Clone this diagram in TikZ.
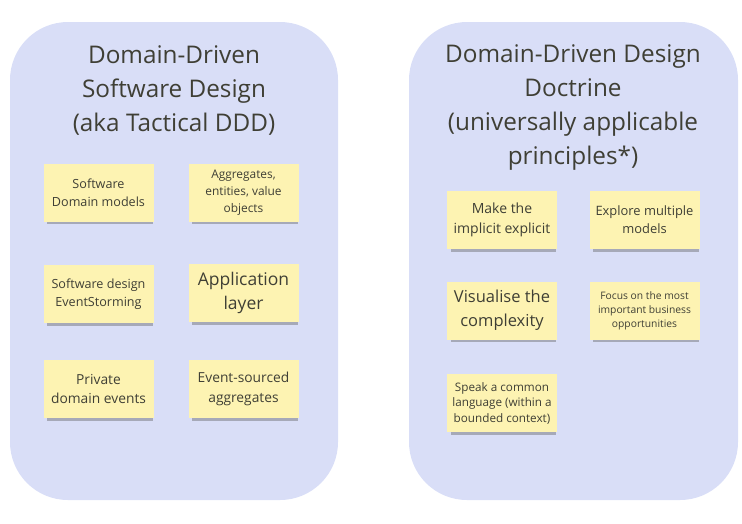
\documentclass[tikz,border=0pt]{standalone}
\usepackage{fontspec}
\setmainfont{Open Sans}
\usetikzlibrary{shadows}
\definecolor{panelfill}{HTML}{D9DEF7}
\definecolor{notefill}{HTML}{FDF3B2}
\definecolor{inkdark}{HTML}{3F3F35}
\definecolor{shadowgray}{HTML}{9EA0AE}
\tikzset{
  panel/.style={fill=panelfill, draw=none, rounded corners=58pt},
  paneltitle/.style={text=inkdark, align=center,
    font=\fontsize{24.3}{34}\selectfont},
  note/.style={fill=notefill, draw=none, minimum width=110pt, minimum height=58pt,
    text=inkdark, align=center, inner sep=2pt,
    general shadow={fill=shadowgray, opacity=0.85, shadow xshift=1.5pt,
      shadow yshift=-4pt, shadow scale=0.96}},
  fs/.style 2 args={font=\fontsize{#1}{#2}\selectfont}
}
\begin{document}
\begin{tikzpicture}[x=1pt,y=-1pt]
  \useasboundingbox (0,0) rectangle (742,523);
  % the two panels
  \fill[panel] (10,22) rectangle (338,500);
  \fill[panel] (409,22) rectangle (738,500);
  % panel titles
  \node[paneltitle] (tleft) at (174,90.5)
    {Domain-Driven\\Software Design\\(aka Tactical DDD)};
  \node[paneltitle] (tright) at (573,107.5)
    {Domain-Driven Design\\Doctrine\\(universally applicable\\principles*)};
  % tactical notes
  \node[note, fs={12.6}{18}] (swmodels) at (98.5,192.5) {Software\\Domain models};
  \node[note, fs={11.9}{16.7}] (aggr) at (243.5,192.5) {Aggregates,\\entities, value\\objects};
  \node[note, fs={12.6}{18.5}] (es) at (98.5,294) {Software design\\EventStorming};
  \node[note, fs={17.5}{24}] (applayer) at (243.5,293) {Application\\layer};
  \node[note, fs={13.8}{19.5}] (privev) at (98.5,389) {Private\\domain events};
  \node[note, fs={13.8}{19.5}] (esagg) at (243.5,389) {Event-sourced\\aggregates};
  % doctrine notes
  \node[note, fs={14}{20}] (implicit) at (502,220) {Make the\\implicit explicit};
  \node[note, fs={12.9}{18}] (explore) at (644.5,220) {Explore multiple\\models};
  \node[note, fs={16.5}{24}] (visualise) at (502,310.5) {Visualise the\\complexity};
  \node[note, fs={10.3}{14}] (focus) at (644.5,310.5) {Focus on the most\\important business\\opportunities};
  \node[note, fs={11.7}{15.5}] (speak) at (502,403) {Speak a common\\language (within a\\bounded context)};
\end{tikzpicture}
\end{document}
